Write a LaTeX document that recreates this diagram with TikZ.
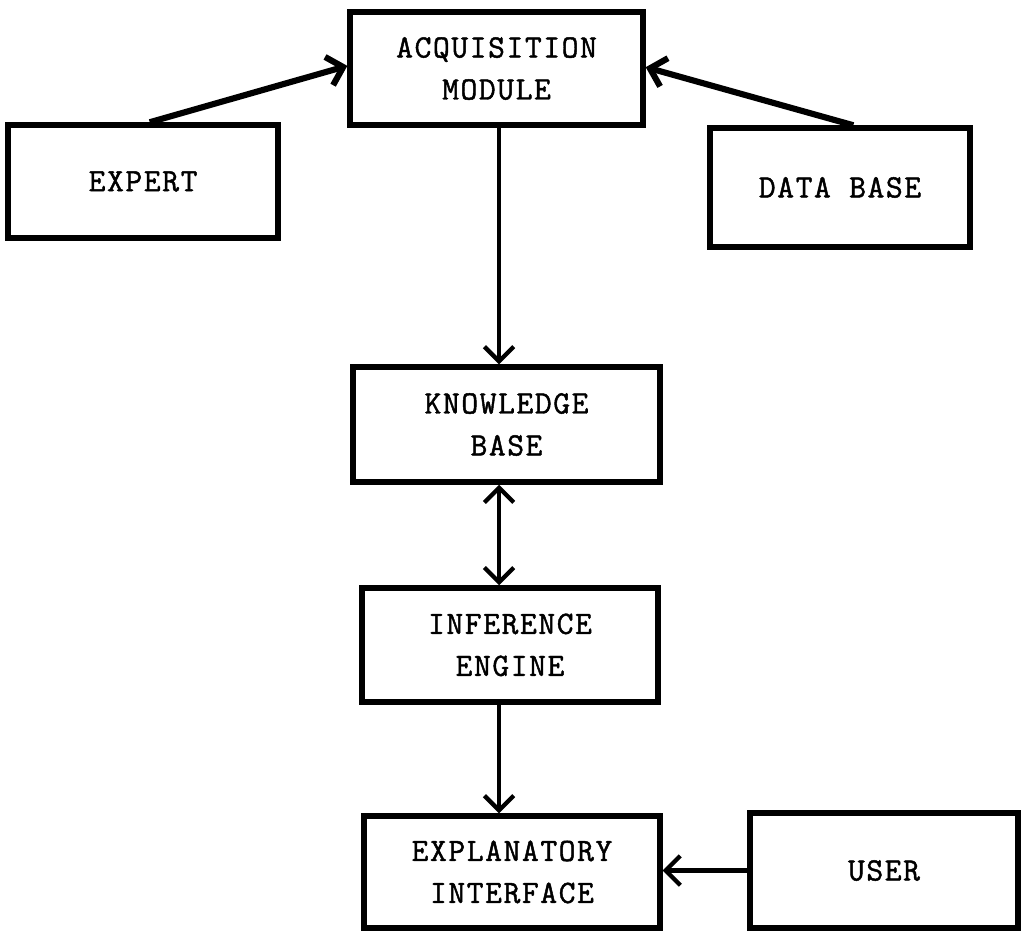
\documentclass[tikz,border=0pt]{standalone}
\usepackage{fontspec}
\newfontfamily\boxfont[FakeBold=1.4,LetterSpace=5]{Latin Modern Mono}
\usetikzlibrary{arrows.meta}
\begin{document}
\begin{tikzpicture}[>={Straight Barb[length=11bp,width=22bp]},line join=miter,
  box/.style={draw,line width=4bp,rectangle,align=center,inner sep=0pt,
    font=\boxfont\fontsize{24.5}{31.6}\selectfont},
  link/.style={black,line width=3.2bp,->},
]
%%
\useasboundingbox (0bp,0bp) rectangle (768bp,702bp);
\node (node_0) at (372.4bp,650.6bp) [box,minimum width=219.8bp,minimum height=84.8bp] {ACQUISITION\\MODULE};
  \node (node_1) at (107.3bp,565.9bp) [box,minimum width=202.5bp,minimum height=84.8bp] {EXPERT};
  \node (node_2) at (630.0bp,561.4bp) [box,minimum width=195.0bp,minimum height=89.3bp] {DATA BASE};
  \node (node_3) at (379.9bp,383.6bp) [box,minimum width=230.3bp,minimum height=86.3bp] {KNOWLEDGE\\BASE};
  \node (node_4) at (382.5bp,218.3bp) [box,minimum width=222.0bp,minimum height=85.5bp] {INFERENCE\\ENGINE};
  \node (node_5) at (384.0bp,48.0bp) [box,minimum width=222.0bp,minimum height=84.0bp] {EXPLANATORY\\INTERFACE};
  \node (node_6) at (663.0bp,49.1bp) [box,minimum width=201.0bp,minimum height=86.3bp] {USER};
%
\coordinate (spine) at (374.3bp,0bp);
  \draw [link,line width=4.6bp] ([xshift=5bp]node_1.north) -- ([yshift=2bp]node_0.west);
  \draw [link,line width=4.6bp] ([xshift=10bp]node_2.north) -- ([yshift=1bp]node_0.east);
  \draw [link] (node_0.south -| spine) -- (node_3.north -| spine);
  \draw [link,<->] (node_3.south -| spine) -- (node_4.north -| spine);
  \draw [link] (node_4.south -| spine) -- (node_5.north -| spine);
  \draw [link] (node_6.west) -- (node_5.east |- node_6.west);
%
\end{tikzpicture}
\end{document}
